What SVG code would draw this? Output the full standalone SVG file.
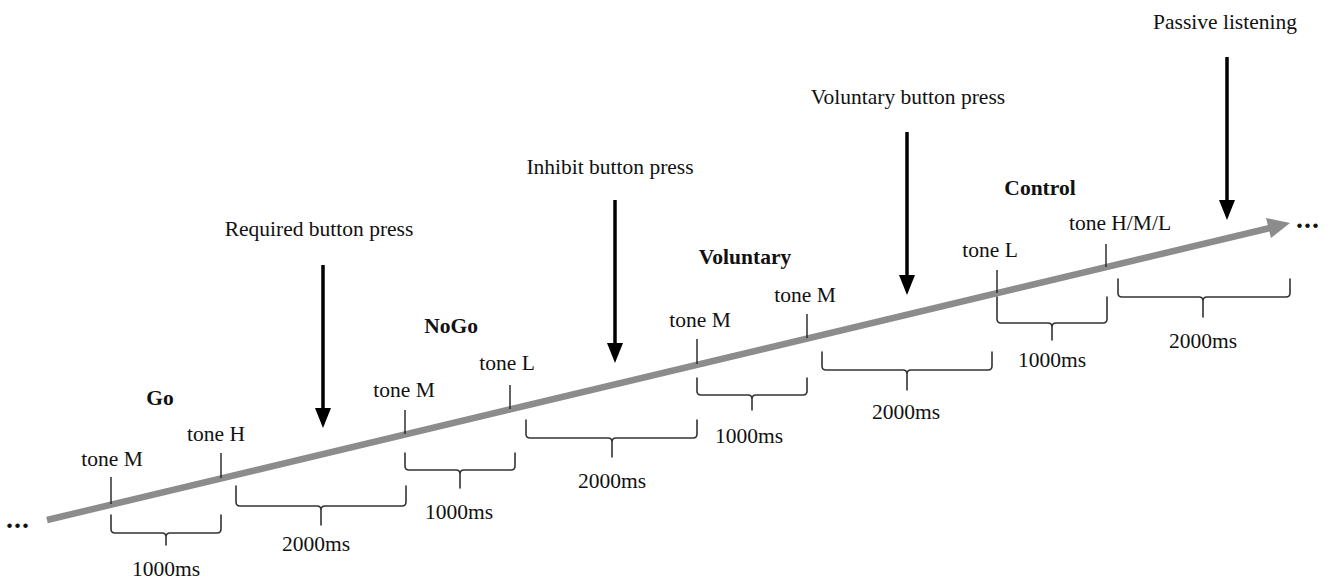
<svg xmlns="http://www.w3.org/2000/svg" width="1330" height="580" viewBox="0 0 1330 580">
  <defs>
    <style>
      text { font-family: "Liberation Serif", "Times New Roman", serif; font-size: 21.5px; fill: #111; text-anchor: middle; }
      .bold { font-weight: bold; }
      .dots { font-weight: bold; font-size: 28px; text-anchor: start; letter-spacing: 1px; }
      .tick { stroke: #222; stroke-width: 1.4; fill: none; }
      .brace { stroke: #333; stroke-width: 1.6; fill: none; stroke-linecap: round; stroke-linejoin: round; }
      .press { stroke: #000; stroke-width: 3.5; fill: none; }
    </style>
  </defs>

  <rect width="1330" height="580" fill="#fff"/>

  <!-- timeline -->
  <g id="timeline">
    <line x1="47" y1="520" x2="1270" y2="228" stroke="#8c8c8c" stroke-width="6.5"/>
    <polygon points="1290,223 1266,218 1271,238" fill="#8c8c8c"/>
    <text class="dots" x="6" y="528">...</text>
    <text class="dots" x="1296" y="228">...</text>
  </g>

  <!-- tone onset ticks -->
  <g id="ticks">
    <line class="tick" x1="111" y1="477" x2="111" y2="504"/>
    <line class="tick" x1="221" y1="453" x2="221" y2="478"/>
    <line class="tick" x1="405" y1="410" x2="405" y2="434"/>
    <line class="tick" x1="510" y1="385" x2="510" y2="409"/>
    <line class="tick" x1="697" y1="339" x2="697" y2="364"/>
    <line class="tick" x1="807" y1="314" x2="807" y2="338"/>
    <line class="tick" x1="997" y1="270" x2="997" y2="293"/>
    <line class="tick" x1="1106" y1="244" x2="1106" y2="267"/>
  </g>

  <!-- trial: Go -->
  <g id="go">
    <text class="bold" x="160" y="405">Go</text>
    <text x="112" y="466">tone M</text>
    <text x="216" y="441">tone H</text>
    <path class="brace" d="M111,515 V529 Q111,533 115,533 H162 Q166,533 166,537 V545 M166,537 Q166,533 170,533 H217 Q221,533 221,529 V515"/>
    <text x="166" y="576">1000ms</text>
    <path class="brace" d="M236,486 V502 Q236,506 240,506 H317 Q321,506 321,510 V525 M321,510 Q321,506 325,506 H402 Q406,506 406,502 V486"/>
    <text x="316" y="551">2000ms</text>
  </g>

  <!-- trial: NoGo -->
  <g id="nogo">
    <text class="bold" x="451" y="333">NoGo</text>
    <text x="404" y="397">tone M</text>
    <text x="507" y="370">tone L</text>
    <path class="brace" d="M405,453 V466 Q405,470 409,470 H456 Q460,470 460,474 V488 M460,474 Q460,470 464,470 H511 Q515,470 515,466 V453"/>
    <text x="459" y="519">1000ms</text>
    <path class="brace" d="M526,420 V434 Q526,438 530,438 H608 Q612,438 612,442 V457 M612,442 Q612,438 616,438 H693 Q697,438 697,434 V420"/>
    <text x="612" y="488">2000ms</text>
  </g>

  <!-- trial: Voluntary -->
  <g id="voluntary">
    <text class="bold" x="745" y="264">Voluntary</text>
    <text x="700" y="327">tone M</text>
    <text x="805" y="302">tone M</text>
    <path class="brace" d="M697,378 V391 Q697,395 701,395 H748 Q752,395 752,399 V410 M752,399 Q752,395 756,395 H803 Q807,395 807,391 V378"/>
    <text x="749" y="443">1000ms</text>
    <path class="brace" d="M822,352 V366 Q822,370 826,370 H903 Q907,370 907,374 V390 M907,374 Q907,370 911,370 H988 Q992,370 992,366 V352"/>
    <text x="906" y="419">2000ms</text>
  </g>

  <!-- trial: Control -->
  <g id="control">
    <text class="bold" x="1040" y="195">Control</text>
    <text x="990" y="257">tone L</text>
    <text x="1120" y="230">tone H/M/L</text>
    <path class="brace" d="M997,297 V319 Q997,323 1001,323 H1048 Q1052,323 1052,327 V340 M1052,327 Q1052,323 1056,323 H1103 Q1107,323 1107,319 V297"/>
    <text x="1052" y="367">1000ms</text>
    <path class="brace" d="M1118,279 V293 Q1118,297 1122,297 H1199 Q1203,297 1203,301 V317 M1203,301 Q1203,297 1207,297 H1286 Q1290,297 1290,293 V279"/>
    <text x="1203" y="348">2000ms</text>
  </g>

  <!-- response events -->
  <g id="required-press">
    <text x="319" y="236">Required button press</text>
    <line class="press" x1="323" y1="265" x2="323" y2="410"/>
    <polygon points="315,408 331,408 323,428" fill="#000"/>
  </g>
  <g id="inhibit-press">
    <text x="610" y="174">Inhibit button press</text>
    <line class="press" x1="615" y1="200" x2="615" y2="345"/>
    <polygon points="607,343 623,343 615,363" fill="#000"/>
  </g>
  <g id="voluntary-press">
    <text x="908" y="104">Voluntary button press</text>
    <line class="press" x1="907" y1="132" x2="907" y2="277"/>
    <polygon points="899,275 915,275 907,295" fill="#000"/>
  </g>
  <g id="passive-listening">
    <text x="1225" y="29">Passive listening</text>
    <line class="press" x1="1227" y1="57" x2="1227" y2="202"/>
    <polygon points="1219,200 1235,200 1227,220" fill="#000"/>
  </g>
</svg>
